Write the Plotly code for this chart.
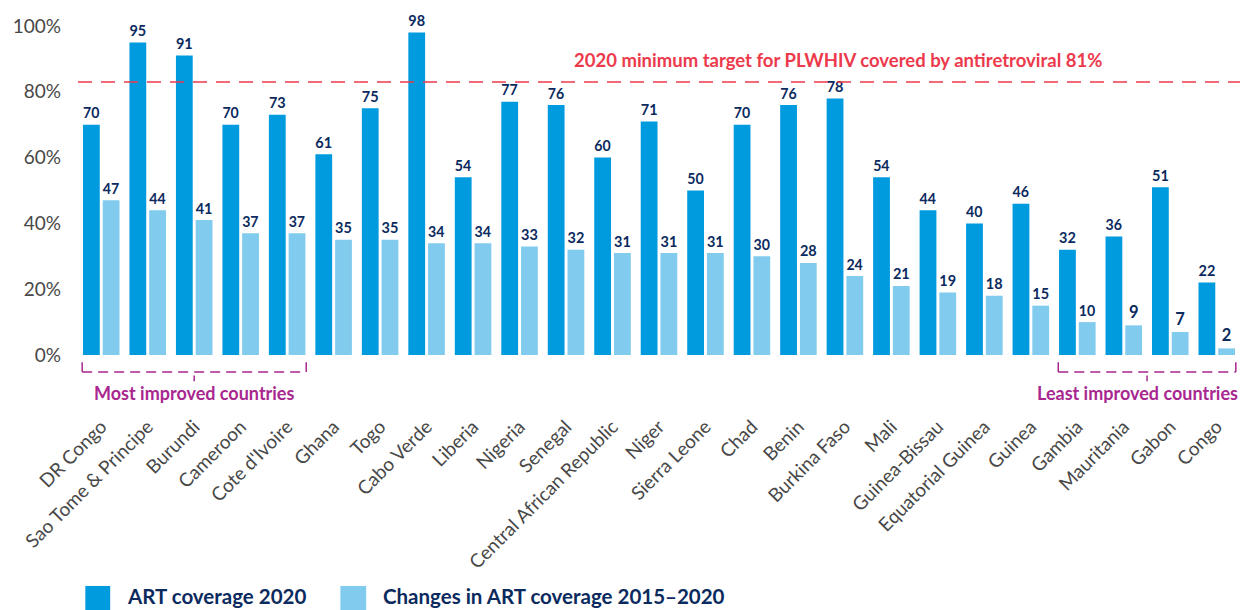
import plotly.graph_objects as go

# data
countries = ["DR Congo", "Sao Tome & Principe", "Burundi", "Cameroon", "Cote d'Ivoire",
             "Ghana", "Togo", "Cabo Verde", "Liberia", "Nigeria", "Senegal",
             "Central African Republic", "Niger", "Sierra Leone", "Chad", "Benin",
             "Burkina Faso", "Mali", "Guinea-Bissau", "Equatorial Guinea", "Guinea",
             "Gambia", "Mauritania", "Gabon", "Congo"]
art_2020 = [70, 95, 91, 70, 73, 61, 75, 98, 54, 77, 76, 60, 71, 50, 70, 76, 78, 54,
            44, 40, 46, 32, 36, 51, 22]
art_change = [47, 44, 41, 37, 37, 35, 35, 34, 34, 33, 32, 31, 31, 31, 30, 28, 24, 21,
              19, 18, 15, 10, 9, 7, 2]
series_names = ["ART coverage 2020", "Changes in ART coverage 2015–2020"]
target_value = 83
target_label = "2020 minimum target for PLWHIV covered by antiretroviral 81%"
y_ticks = [0, 20, 40, 60, 80, 100]
y_ticktext = ["0%", "20%", "40%", "60%", "80%", "100%"]

DARK = "#009ADE"
LIGHT = "#80CBEE"
NAVY = "#0B2A5E"
RED = "#EC3A4C"
MAGENTA = "#A8278F"
GREY = "#484848"
FONT = "Lato, 'Noto Sans', sans-serif"

x = list(range(len(countries)))

fig = go.Figure()
for vals, color, name in [(art_2020, DARK, series_names[0]), (art_change, LIGHT, series_names[1])]:
    fig.add_trace(go.Bar(
        x=x, y=vals, name=name,
        marker=dict(color=color, line=dict(width=0)),
        text=[str(v) for v in vals],
        textposition="outside",
        textfont=dict(family=FONT, size=16.5, color=NAVY, weight="bold"),
        cliponaxis=False,
        showlegend=False,
    ))

# target line
fig.add_shape(type="line", xref="paper", yref="y", x0=0, x1=1, y0=target_value, y1=target_value,
              line=dict(color=RED, width=1.5, dash="14px,9px"))
fig.add_annotation(xref="paper", yref="y", x=0.654, y=89.7, text="<b>%s</b>" % target_label,
                   showarrow=False, font=dict(family=FONT, size=18.5, color=RED))


def bracket(x0, x1, label, text_shift=0.0):
    mid = (x0 + x1) / 2
    ln = dict(color=MAGENTA, width=1.5, dash="10px,6px")
    fig.add_shape(type="line", xref="x", yref="paper", x0=x0, x1=x1, y0=-0.052, y1=-0.052, line=ln)
    for xx in (x0, x1):
        fig.add_shape(type="line", xref="x", yref="paper", x0=xx, x1=xx, y0=-0.022, y1=-0.052,
                      line=dict(color=MAGENTA, width=1.5))
    fig.add_shape(type="line", xref="x", yref="paper", x0=mid, x1=mid, y0=-0.062, y1=-0.08,
                  line=dict(color=MAGENTA, width=1.5))
    fig.add_annotation(xref="x", yref="paper", x=mid + text_shift, y=-0.116, yanchor="middle",
                       text="<b>%s</b>" % label, showarrow=False,
                       font=dict(family=FONT, size=18, color=MAGENTA))


bracket(-0.41, 4.41, "Most improved countries")
bracket(20.59, 24.41, "Least improved countries", text_shift=-0.2)

# legend drawn by hand (big square swatches)
for x0, x1, tx, color, name in [(0.0063, 0.0277, 0.0406, DARK, series_names[0]),
                                (0.2258, 0.248, 0.261, LIGHT, series_names[1])]:
    fig.add_shape(type="rect", xref="paper", yref="paper", x0=x0, x1=x1, y0=-0.702, y1=-0.8,
                  fillcolor=color, line=dict(width=0))
    fig.add_annotation(xref="paper", yref="paper", x=tx, y=-0.733, xanchor="left",
                       yanchor="middle", text="<b>%s</b>" % name, showarrow=False,
                       font=dict(family=FONT, size=20.5, color=NAVY))

# page body has an 8px margin, so the figure is shifted to compensate
fig.update_layout(
    width=1245, height=602,
    margin=dict(l=70, r=13, t=18, b=255),
    plot_bgcolor="white", paper_bgcolor="white",
    barmode="group", bargap=0.15, bargroupgap=0.15,
    xaxis=dict(tickvals=x, ticktext=countries, tickangle=-45, range=[-0.5, len(countries) - 0.5],
               showgrid=False, zeroline=False, showline=False, ticks="", automargin=False,
               ticklabelstandoff=56,
               tickfont=dict(family=FONT, size=19, color=GREY)),
    yaxis=dict(range=[0, 100], tickvals=y_ticks, ticktext=y_ticktext, showgrid=False,
               zeroline=False, showline=False, ticks="", ticklabelstandoff=16, automargin=False,
               tickfont=dict(family=FONT, size=19, color=GREY)),
)

fig.write_html("out.html")
